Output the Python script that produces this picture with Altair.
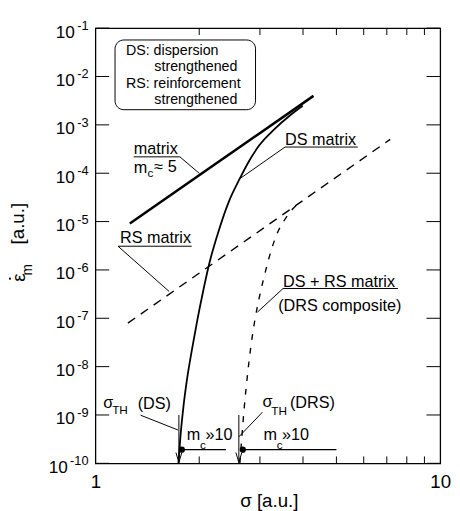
import altair as alt
import pandas as pd

FONT = "Liberation Sans"

# ---------------- data ----------------
matrix_sigma = [1.258, 4.29]
matrix_rate = [9.12e-6, 3.98e-3]

ds_sigma = [1.741, 1.764, 1.799, 1.846, 1.908, 1.978, 2.058, 2.141, 2.270, 2.441,
            2.624, 2.783, 2.991, 3.300, 3.665, 3.992]
ds_rate = [1.0e-10, 3.53e-10, 1.44e-9, 5.85e-9, 2.38e-8, 9.68e-8, 3.94e-7, 1.39e-6,
           5.94e-6, 2.65e-5, 7.80e-5, 1.73e-4, 3.82e-4, 8.07e-4, 1.56e-3, 2.48e-3]

rs_sigma = [1.242, 7.16]
rs_rate = [7.94e-8, 5.01e-4]

drs_sigma = [2.624, 2.659, 2.702, 2.755, 2.819, 2.904, 3.001, 3.121, 3.236, 3.365,
             3.524, 3.689, 3.863]
drs_rate = [1.0e-10, 3.53e-10, 1.44e-9, 5.85e-9, 2.38e-8, 9.68e-8, 3.12e-7, 1.00e-6,
            2.56e-6, 5.67e-6, 1.04e-5, 1.66e-5, 2.31e-5]

threshold_sigma = [1.746, 2.606]
threshold_top = [1e-9, 1e-9]
threshold_bottom = [1e-10, 1e-10]
threshold_arrow_rate = [1.32e-10, 1.32e-10]

dot_sigma = [1.781, 2.676]
dot_rate = [1.92e-10, 1.92e-10]
mc_line_end = [2.39, 5.0]

x_ticks = [1, 2, 3, 4, 5, 6, 7, 8, 9, 10]
x_tick_labels = ["1", "", "", "", "", "", "", "", "", "10"]
y_ticks = [1e-1, 1e-2, 1e-3, 1e-4, 1e-5, 1e-6, 1e-7, 1e-8, 1e-9, 1e-10]
y_tick_exponents = ["-1", "-2", "-3", "-4", "-5", "-6", "-7", "-8", "-9", "-10"]

x_title = "σ  [a.u.]"
y_title_main = "ε"
y_title_sub = "m"
y_title_unit = "[a.u.]"

# annotation texts (anchor in data units)
label_text = ["matrix", "m", "≈ 5", "DS matrix", "RS matrix", "DS + RS matrix",
              "(DRS composite)", "σ", "(DS)", "σ", "(DRS)", "m", "»10", "m", "»10"]
label_sigma = [1.291, 1.291, 1.482, 3.548, 1.178, 3.501, 3.388, 1.054, 1.326, 3.05,
               3.665, 1.84, 2.085, 3.07, 3.478]
label_rate = [3.17e-4, 1.30e-4, 1.36e-4, 4.83e-4, 4.49e-6, 5.73e-7, 1.78e-7, 1.73e-9,
              1.66e-9, 1.82e-9, 1.73e-9, 3.88e-10, 3.88e-10, 3.88e-10, 3.88e-10]

sub_text = ["c", "TH", "TH", "c", "c"]
sub_sigma = [1.416, 1.118, 3.236, 2.010, 3.355]
sub_rate = [9.84e-5, 1.25e-9, 1.19e-9, 2.43e-10, 2.43e-10]

box_text = ["DS: dispersion", "strengthened", "RS: reinforcement", "strengthened"]
box_text_sigma = [1.226, 1.482, 1.226, 1.482]
box_text_rate = [0.0341, 0.01538, 0.00693, 0.00328]
box_sigma = [1.14, 2.913]
box_rate = [0.057, 0.00206]

underline_sigma = [1.291, 3.548, 1.163, 3.501]
underline_sigma2 = [1.758, 5.765, 1.902, 7.54]
underline_rate = [2.18e-4, 3.48e-4, 3.09e-6, 4.13e-7]

leader_sigma = [1.758, 3.548, 1.163, 3.501, 1.352, 3.05]
leader_rate = [2.18e-4, 3.48e-4, 3.09e-6, 4.13e-7, 9.89e-10, 1.14e-9]
leader_sigma2 = [2.004, 2.630, 1.636, 2.951, 1.735, 2.606]
leader_rate2 = [9.84e-5, 7.8e-5, 3.59e-7, 1.34e-7, 4.9e-10, 3.53e-10]

# ---------------- tables ----------------
def curve(s, e):
    return pd.DataFrame({"s": s, "e": e, "i": range(len(s))})

matrix_df = curve(matrix_sigma, matrix_rate)
ds_df = curve(ds_sigma, ds_rate)
rs_df = curve(rs_sigma, rs_rate)
drs_df = curve(drs_sigma, drs_rate)
thr_df = pd.DataFrame({"s": threshold_sigma, "e": threshold_top, "e2": threshold_bottom,
                       "ea": threshold_arrow_rate})
dot_df = pd.DataFrame({"s": dot_sigma, "e": dot_rate, "s2": mc_line_end})
lab_df = pd.DataFrame({"s": label_sigma, "e": label_rate, "t": label_text})
sub_df = pd.DataFrame({"s": sub_sigma, "e": sub_rate, "t": sub_text})
boxt_df = pd.DataFrame({"s": box_text_sigma, "e": box_text_rate, "t": box_text})
box_df = pd.DataFrame({"s": [box_sigma[0]], "s2": [box_sigma[1]],
                       "e": [box_rate[0]], "e2": [box_rate[1]]})
ul_df = pd.DataFrame({"s": underline_sigma, "s2": underline_sigma2, "e": underline_rate})
ld_df = pd.DataFrame({"s": leader_sigma, "e": leader_rate, "s2": leader_sigma2,
                      "e2": leader_rate2})
ylab_df = pd.DataFrame({"e": y_ticks, "exp": y_tick_exponents})
xtick_df = pd.DataFrame({"s": x_ticks[1:-1]})
ytick_df = pd.DataFrame({"e": y_ticks})
one_df = pd.DataFrame({"k": [0]})

# ---------------- scales / axes ----------------
W, H = 351, 443
xs = alt.Scale(type="log", domain=[1, 10], nice=False)
ys = alt.Scale(type="log", domain=[1e-10, 1e-1], nice=False)

x_expr = "''"
for v, l in reversed(list(zip(x_ticks, x_tick_labels))):
    if l:
        x_expr = f"datum.value == {v} ? '{l}' : ({x_expr})"

bottom_axis = alt.Axis(orient="bottom", values=x_ticks, tickSize=7, offset=-7, domain=False,
                       grid=False, labelExpr=x_expr, labelFontSize=19, labelPadding=10,
                       labelFont=FONT, labelColor="black", tickColor="black", tickWidth=1,
                       tickOpacity=0, title=None, labelOverlap=False, labelFlush=False)


def X(f, axis=None):
    return alt.X(f, type="quantitative", scale=xs, axis=axis)


def Y(f, axis=None):
    return alt.Y(f, type="quantitative", scale=ys, axis=axis)


layers = []

# main curves
layers.append(alt.Chart(matrix_df).mark_line(color="black", strokeWidth=2.6).encode(
    x=X("s", bottom_axis), y=Y("e"), order="i:Q"))
layers.append(alt.Chart(ds_df).mark_line(color="black", strokeWidth=1.8, interpolate="monotone").encode(
    x=X("s"), y=Y("e"), order="i:Q"))
layers.append(alt.Chart(rs_df).mark_line(color="black", strokeWidth=1.4, strokeDash=[9, 7]).encode(
    x=X("s"), y=Y("e"), order="i:Q"))
layers.append(alt.Chart(drs_df).mark_line(color="black", strokeWidth=1.4, strokeDash=[6, 8],
                                          interpolate="monotone").encode(
    x=X("s"), y=Y("e"), order="i:Q"))

# inward ticks on all four sides
layers.append(alt.Chart(xtick_df).mark_rule(color="black", strokeWidth=1).encode(
    x=X("s"), y=alt.value(H), y2=alt.value(H - 7)))
layers.append(alt.Chart(xtick_df).mark_rule(color="black", strokeWidth=1).encode(
    x=X("s"), y=alt.value(0), y2=alt.value(7)))
layers.append(alt.Chart(ytick_df).mark_rule(color="black", strokeWidth=1).encode(
    y=Y("e"), x=alt.value(0), x2=alt.value(14)))
layers.append(alt.Chart(ytick_df).mark_rule(color="black", strokeWidth=1).encode(
    y=Y("e"), x=alt.value(W), x2=alt.value(W - 14)))

# thresholds
layers.append(alt.Chart(thr_df).mark_rule(color="black", strokeWidth=1).encode(
    x=X("s"), y=Y("e"), y2="e2"))
layers.append(alt.Chart(thr_df).mark_point(shape="M-0.6,-1L0,1L0.6,-1", filled=False,
                                           color="black", strokeWidth=1, size=100, opacity=1).encode(
    x=X("s"), y=Y("ea")))
layers.append(alt.Chart(dot_df).mark_rule(color="black", strokeWidth=1.2).encode(
    x=X("s"), x2="s2", y=Y("e")))
layers.append(alt.Chart(dot_df).mark_circle(color="black", size=40, opacity=1).encode(
    x=X("s"), y=Y("e")))

# legend box
layers.append(alt.Chart(box_df).mark_rect(fill="white", stroke="black", strokeWidth=1,
                                          cornerRadius=9).encode(
    x=X("s"), x2="s2", y=Y("e"), y2="e2"))
layers.append(alt.Chart(boxt_df).mark_text(align="left", baseline="middle", fontSize=14.5,
                                           font=FONT, color="black").encode(
    x=X("s"), y=Y("e"), text="t:N"))

# annotations
layers.append(alt.Chart(ul_df).mark_rule(color="black", strokeWidth=1).encode(
    x=X("s"), x2="s2", y=Y("e")))
layers.append(alt.Chart(ld_df).mark_rule(color="black", strokeWidth=1).encode(
    x=X("s"), y=Y("e"), x2="s2", y2="e2"))
layers.append(alt.Chart(lab_df).mark_text(align="left", baseline="middle", fontSize=16.5,
                                          font=FONT, color="black").encode(
    x=X("s"), y=Y("e"), text="t:N"))
layers.append(alt.Chart(sub_df).mark_text(align="left", baseline="middle", fontSize=12,
                                          font=FONT, color="black").encode(
    x=X("s"), y=Y("e"), text="t:N"))

# y tick labels 10^-n
layers.append(alt.Chart(ylab_df).transform_filter("length(datum.exp) < 3").mark_text(
    align="right", baseline="middle", fontSize=17.5, dy=4.5, font=FONT, color="black").encode(
    x=alt.value(-21), y=Y("e"), text=alt.value("10")))
layers.append(alt.Chart(ylab_df).transform_filter("length(datum.exp) >= 3").mark_text(
    align="right", baseline="middle", fontSize=17.5, dy=4.5, font=FONT, color="black").encode(
    x=alt.value(-28), y=Y("e"), text=alt.value("10")))
layers.append(alt.Chart(ylab_df).mark_text(
    align="right", baseline="middle", fontSize=13, dy=-2, font=FONT, color="black").encode(
    x=alt.value(-7), y=Y("e"), text="exp:N"))

# axis titles
layers.append(alt.Chart(one_df).mark_text(align="center", baseline="middle", fontSize=19,
                                          font=FONT, color="black", text=x_title).encode(
    x=alt.value(177), y=alt.value(481)))
layers.append(alt.Chart(one_df).mark_text(align="center", baseline="middle", fontSize=19,
                                          font=FONT, color="black", angle=270,
                                          text=y_title_unit).encode(
    x=alt.value(-79), y=alt.value(199)))
layers.append(alt.Chart(one_df).mark_text(align="center", baseline="middle", fontSize=19,
                                          font=FONT, color="black", angle=270,
                                          text=y_title_main).encode(
    x=alt.value(-78), y=alt.value(254)))
layers.append(alt.Chart(one_df).mark_text(align="center", baseline="middle", fontSize=14,
                                          font=FONT, color="black", angle=270,
                                          text=y_title_sub).encode(
    x=alt.value(-68.5), y=alt.value(246)))
layers.append(alt.Chart(one_df).mark_circle(color="black", size=5, opacity=1).encode(
    x=alt.value(-87), y=alt.value(255)))

chart = alt.layer(*layers).resolve_axis(x="independent", y="independent").properties(
    width=W, height=H,
    padding={"left": 89, "top": 16, "right": 12, "bottom": 44},
    autosize=alt.AutoSizeParams(type="none"),
    background="white",
).configure_view(stroke="black", strokeWidth=1.3)

chart.save("out.html", embed_options={"renderer": "svg", "actions": False})
